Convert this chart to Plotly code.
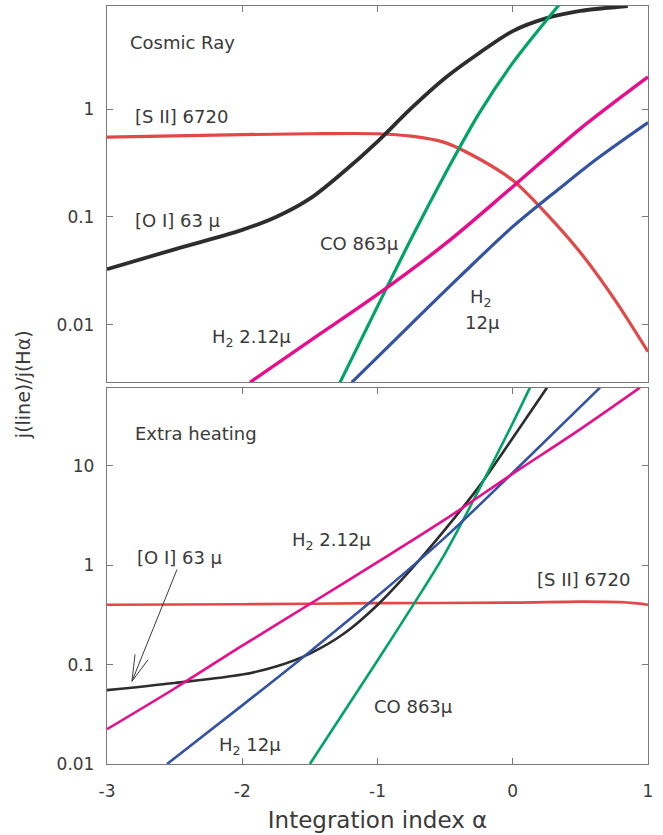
import math
import plotly.graph_objects as go

# ---------------- data: line emissivity ratios vs integration index ----------------
# Upper panel: cosmic-ray heating
oi_top_alpha = [-3, -2.5, -2, -1.75, -1.5, -1.25, -1, -0.75, -0.5, -0.25, 0, 0.25, 0.5, 0.85]
oi_top_ratio = [0.0328, 0.0501, 0.0759, 0.100, 0.148, 0.263, 0.501, 1.023, 1.95, 3.31, 5.31, 7.00, 8.17, 9.08]

sii_top_alpha = [-3, -2, -1.5, -1, -0.75, -0.5, -0.25, 0, 0.25, 0.5, 0.75, 1]
sii_top_ratio = [0.552, 0.581, 0.592, 0.592, 0.562, 0.490, 0.347, 0.219, 0.107, 0.0468, 0.0174, 0.00562]

co_top_alpha = [-1.277, -1.0, -0.75, -0.5, -0.25, 0, 0.342]
co_top_ratio = [0.00292, 0.0148, 0.0631, 0.251, 0.912, 2.69, 9.29]

h2s_top_alpha = [-1.943, -1.5, -1, -0.5, 0, 0.5, 1]
h2s_top_ratio = [0.00292, 0.00708, 0.0191, 0.0562, 0.191, 0.661, 1.995]

h2m_top_alpha = [-1.19, -0.75, -0.39, 0, 0.35, 0.623, 1]
h2m_top_ratio = [0.00292, 0.0102, 0.0281, 0.0813, 0.186, 0.347, 0.753]

# Lower panel: extra heating
oi_bot_alpha = [-3, -2.5, -2, -1.75, -1.5, -1.25, -1, -0.75, -0.5, -0.25, 0, 0.253]
oi_bot_ratio = [0.0553, 0.0653, 0.0794, 0.0955, 0.129, 0.204, 0.398, 0.912, 2.29, 6.17, 19.05, 61.1]

sii_bot_alpha = [-3, -2, -1, 0, 0.5, 0.8, 0.9, 1]
sii_bot_ratio = [0.40, 0.405, 0.415, 0.42, 0.43, 0.425, 0.415, 0.40]

co_bot_alpha = [-1.5, -1.25, -1.0, -0.75, -0.5, -0.25, 0, 0.127]
co_bot_ratio = [0.01, 0.0331, 0.110, 0.372, 1.318, 5.75, 26.9, 61.1]

h2m_bot_alpha = [-2.556, -2, -1.5, -1, -0.5, 0, 0.645]
h2m_bot_ratio = [0.01, 0.0389, 0.135, 0.490, 1.905, 8.51, 61.1]

h2s_bot_alpha = [-3, -2.5, -2, -1.5, -1, -0.5, 0, 0.5, 0.94]
h2s_bot_ratio = [0.0224, 0.0575, 0.155, 0.407, 1.072, 2.884, 8.32, 23.4, 61.1]

x_ticks = [-3, -2, -1, 0, 1]
top_y_ticks = [0.01, 0.1, 1]
top_y_labels = ["0.01", "0.1", "1"]
bot_y_ticks = [0.01, 0.1, 1, 10]
bot_y_labels = ["0.01", "0.1", "1", "10"]

# ---------------- style ----------------
FONT = "DejaVu Sans"
TXT = "#3a3a3a"
AX = "#7a7a7a"
BLACK = "#2d2d2d"
RED = "#e24848"
GREEN = "#00a464"
MAGENTA = "#ea0c8c"
BLUE = "#3553a3"

fig = go.Figure()


def add_line(xs, ys, color, width, xa, ya):
    fig.add_trace(go.Scatter(
        x=xs, y=ys, mode="lines", xaxis=xa, yaxis=ya,
        line=dict(color=color, width=width, shape="spline", smoothing=0.9),
        hoverinfo="skip", showlegend=False, cliponaxis=True,
    ))


# upper panel (x2 / y2)
add_line(sii_top_alpha, sii_top_ratio, RED, 3.2, "x2", "y2")
add_line(oi_top_alpha, oi_top_ratio, BLACK, 3.8, "x2", "y2")
add_line(co_top_alpha, co_top_ratio, GREEN, 3.2, "x2", "y2")
add_line(h2s_top_alpha, h2s_top_ratio, MAGENTA, 3.4, "x2", "y2")
add_line(h2m_top_alpha, h2m_top_ratio, BLUE, 3.2, "x2", "y2")

# lower panel (x / y)
add_line(sii_bot_alpha, sii_bot_ratio, RED, 2.6, "x", "y")
add_line(oi_bot_alpha, oi_bot_ratio, BLACK, 2.6, "x", "y")
add_line(co_bot_alpha, co_bot_ratio, GREEN, 2.6, "x", "y")
add_line(h2m_bot_alpha, h2m_bot_ratio, BLUE, 2.6, "x", "y")
add_line(h2s_bot_alpha, h2s_bot_ratio, MAGENTA, 2.6, "x", "y")

gap = 0.0035
axis_common = dict(
    showline=True, linecolor=AX, linewidth=1.3,
    ticks="inside", ticklen=6, tickwidth=1.2, tickcolor=AX,
    showgrid=False, zeroline=False,
    tickfont=dict(family=FONT, size=17, color=TXT),
)

fig.update_layout(
    width=663, height=835,
    margin=dict(l=107, r=15, t=6, b=69),
    paper_bgcolor="white", plot_bgcolor="white",
    xaxis=dict(
        **axis_common, range=[-3, 1], anchor="y", mirror="ticks",
        tickvals=x_ticks, ticktext=[str(v) for v in x_ticks],
        ticklabelstandoff=11,
        title=dict(text="Integration index α", font=dict(family=FONT, size=23, color=TXT), standoff=12),
    ),
    xaxis2=dict(
        **axis_common, range=[-3, 1], anchor="y2", matches="x", side="top",
        mirror=True, showticklabels=False, tickvals=x_ticks,
    ),
    yaxis=dict(
        **axis_common, type="log", range=[-2, 1.786], domain=[0, 0.5 - gap],
        anchor="x", mirror="ticks", tickvals=bot_y_ticks, ticktext=bot_y_labels,
        ticklabelstandoff=8,
    ),
    yaxis2=dict(
        **axis_common, type="log", range=[math.log10(0.00292), 0.958], domain=[0.5 + gap, 1],
        anchor="x2", mirror="ticks", tickvals=top_y_ticks, ticktext=top_y_labels,
        ticklabelstandoff=8,
    ),
)


def label(text, x, y, xref, yref, size=18):
    fig.add_annotation(
        text=text, x=x, y=math.log10(y), xref=xref, yref=yref,
        xanchor="left", yanchor="middle", showarrow=False,
        font=dict(family=FONT, size=size, color=TXT),
    )


# upper panel labels
label("Cosmic Ray", -2.845, 4.15, "x2", "y2")
label("[S II] 6720", -2.808, 0.86, "x2", "y2")
label("[O I] 63 μ", -2.808, 0.093, "x2", "y2")
label("CO 863μ", -1.44, 0.057, "x2", "y2")
label("H<sub>2</sub> 2.12μ", -2.238, 0.0076, "x2", "y2")
label("H<sub>2</sub>", -0.331, 0.0177, "x2", "y2")
label("12μ", -0.368, 0.0105, "x2", "y2")

# lower panel labels
label("Extra heating", -2.808, 21.2, "x", "y")
label("H<sub>2</sub> 2.12μ", -1.647, 1.74, "x", "y")
label("[O I] 63 μ", -2.793, 1.2, "x", "y")
label("[S II] 6720", 0.165, 0.72, "x", "y")
label("CO 863μ", -1.041, 0.0383, "x", "y")
label("H<sub>2</sub> 12μ", -2.187, 0.0153, "x", "y")

# pointer from the lower [O I] label to its curve, with an open V head (paper units)
fig.add_shape(
    type="path", xref="paper", yref="paper",
    path="M 0.1294 0.2566 L 0.0462 0.1092 M 0.0518 0.1447 L 0.0462 0.1092 L 0.0758 0.1375",
    line=dict(color=TXT, width=1),
)

# shared y-axis title
fig.add_annotation(
    text="j(line)/j(Hα)", x=-0.155, y=0.5, xref="paper", yref="paper",
    xanchor="center", yanchor="middle",
    showarrow=False, textangle=-90,
    font=dict(family=FONT, size=19, color=TXT),
)

fig.write_html("out.html")
